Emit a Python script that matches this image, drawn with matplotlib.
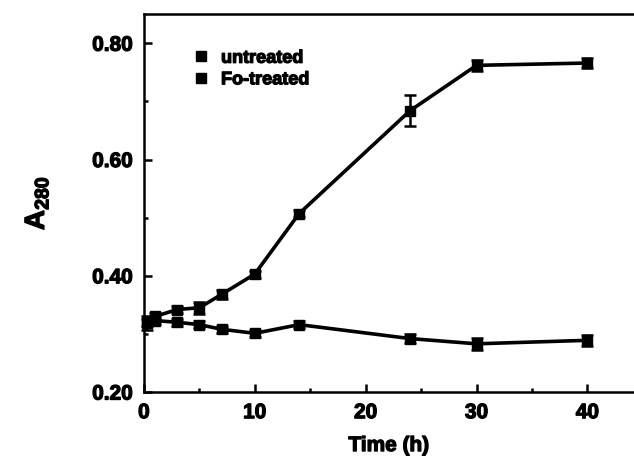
import matplotlib
matplotlib.use("Agg")
import matplotlib.pyplot as plt
import matplotlib.patheffects as pe
from matplotlib.ticker import MultipleLocator, FormatStrFormatter
from matplotlib.lines import Line2D

plt.rcParams['font.family'] = ['Liberation Sans', 'DejaVu Sans']
plt.rcParams['font.weight'] = 'bold'
plt.rcParams['mathtext.fontset'] = 'custom'
plt.rcParams['mathtext.rm'] = 'Liberation Sans:bold'
plt.rcParams['mathtext.bf'] = 'Liberation Sans:bold'
plt.rcParams['mathtext.it'] = 'Liberation Sans:bold'

time_untreated = [0.3, 1, 3, 5, 7, 10, 14, 24, 30, 40]
a280_untreated = [0.318, 0.323, 0.320, 0.316, 0.308, 0.301, 0.316, 0.292, 0.283, 0.289]
err_untreated = [0.012, 0.006, 0.006, 0.006, 0.006, 0.006, 0.006, 0.008, 0.010, 0.009]

time_fo = [0.3, 1, 3, 5, 7, 10, 14, 24, 30, 40]
a280_fo = [0.320, 0.330, 0.342, 0.345, 0.368, 0.403, 0.507, 0.684, 0.762, 0.766]
err_fo = [0.006, 0.006, 0.006, 0.010, 0.008, 0.006, 0.006, 0.027, 0.010, 0.009]

legend_labels = ['untreated', 'Fo-treated']

heavy = [pe.withStroke(linewidth=0.9, foreground='black')]

fig = plt.figure(figsize=(6.34, 4.58), dpi=100)
ax = fig.add_axes([0.227, 0.144, 0.773, 0.825])

common = dict(color='black', marker='s', markersize=7.5, linewidth=2.6,
              elinewidth=1.8, capsize=4.5, capthick=1.8, clip_on=False)
ax.errorbar(time_untreated, a280_untreated, yerr=err_untreated, **common)
ax.errorbar(time_fo, a280_fo, yerr=err_fo, **common)

ax.set_xlim(0, 44.2)
ax.set_ylim(0.2, 0.85)
ax.xaxis.set_major_locator(MultipleLocator(10))
ax.xaxis.set_minor_locator(MultipleLocator(5))
ax.yaxis.set_major_locator(MultipleLocator(0.2))
ax.yaxis.set_minor_locator(MultipleLocator(0.1))
ax.yaxis.set_major_formatter(FormatStrFormatter('%.2f'))

ax.spines['right'].set_visible(False)
for s in ['left', 'top', 'bottom']:
    ax.spines[s].set_linewidth(1.8)
ax.tick_params(which='major', direction='in', length=6, width=1.8, labelsize=15, pad=8)
ax.tick_params(which='minor', direction='in', length=3, width=1.8)
ax.tick_params(axis='x', which='both', top=False)
ax.tick_params(axis='y', which='both', right=False)

for lab in ax.get_xticklabels() + ax.get_yticklabels():
    lab.set_fontweight('bold')
    lab.set_path_effects(heavy)

xl = ax.set_xlabel('Time (h)', fontsize=15, fontweight='bold', labelpad=10)
xl.set_path_effects(heavy)
yl = ax.set_ylabel(r'$\mathbf{A_{280}}$', fontsize=20, labelpad=30)
yl.set_path_effects(heavy)

handles = [Line2D([], [], color='black', marker='s', linestyle='none', markersize=6.5) for _ in legend_labels]
leg = ax.legend(handles, legend_labels, loc='upper left', bbox_to_anchor=(0.08, 0.925), frameon=False,
                handletextpad=0.5, labelspacing=0.25, borderaxespad=0, handlelength=1.2,
                prop={'weight': 'bold', 'size': 13})
for t in leg.get_texts():
    t.set_path_effects(heavy)

fig.savefig('out.png', dpi=100)
